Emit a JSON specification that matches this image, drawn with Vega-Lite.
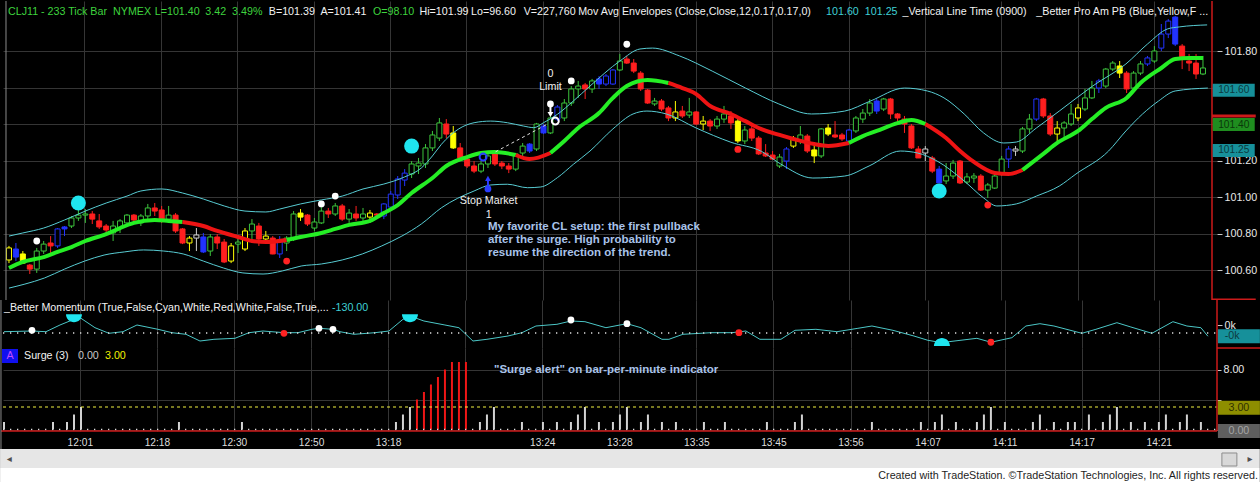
{
  "$schema": "https://vega.github.io/schema/vega-lite/v6.json",
  "background": "black",
  "padding": 0,
  "bounds": "flush",
  "spacing": 0,
  "config": {
    "view": {"stroke": null},
    "axis": {"labelFont": "Liberation Sans", "labelFontSize": 10.7, "labelColor": "#e8e8e8", "gridColor": "#353535", "gridWidth": 1, "domain": false, "tickColor": "#c8c8c8", "tickSize": 5, "labelPadding": 2, "labelOverlap": false, "labelFlush": false},
    "text": {"font": "Liberation Sans"}
  },
  "datasets": {
    "bars": [
      {"i":0,"o":100.655,"h":100.732,"l":100.638,"c":100.721,"k":"y"},
      {"i":1,"o":100.715,"h":100.748,"l":100.649,"c":100.671,"k":"b"},
      {"i":2,"o":100.688,"h":100.704,"l":100.633,"c":100.638,"k":"y"},
      {"i":3,"o":100.627,"h":100.633,"l":100.578,"c":100.605,"k":"r"},
      {"i":4,"o":100.605,"h":100.721,"l":100.584,"c":100.704,"k":"g"},
      {"i":5,"o":100.704,"h":100.759,"l":100.688,"c":100.742,"k":"g"},
      {"i":6,"o":100.748,"h":100.786,"l":100.688,"c":100.732,"k":"r"},
      {"i":7,"o":100.732,"h":100.830,"l":100.721,"c":100.825,"k":"b"},
      {"i":8,"o":100.836,"h":100.841,"l":100.786,"c":100.825,"k":"b"},
      {"i":9,"o":100.841,"h":100.896,"l":100.830,"c":100.885,"k":"g"},
      {"i":10,"o":100.885,"h":100.929,"l":100.869,"c":100.901,"k":"g"},
      {"i":11,"o":100.901,"h":100.934,"l":100.858,"c":100.907,"k":"g"},
      {"i":12,"o":100.907,"h":100.923,"l":100.852,"c":100.879,"k":"r"},
      {"i":13,"o":100.869,"h":100.907,"l":100.825,"c":100.836,"k":"r"},
      {"i":14,"o":100.841,"h":100.852,"l":100.797,"c":100.819,"k":"r"},
      {"i":15,"o":100.803,"h":100.869,"l":100.759,"c":100.841,"k":"g"},
      {"i":16,"o":100.830,"h":100.879,"l":100.803,"c":100.869,"k":"g"},
      {"i":17,"o":100.858,"h":100.907,"l":100.852,"c":100.901,"k":"g"},
      {"i":18,"o":100.901,"h":100.907,"l":100.852,"c":100.874,"k":"r"},
      {"i":19,"o":100.858,"h":100.907,"l":100.841,"c":100.896,"k":"g"},
      {"i":20,"o":100.896,"h":100.962,"l":100.879,"c":100.940,"k":"g"},
      {"i":21,"o":100.940,"h":100.967,"l":100.896,"c":100.923,"k":"r"},
      {"i":22,"o":100.929,"h":100.951,"l":100.858,"c":100.879,"k":"r"},
      {"i":23,"o":100.879,"h":100.951,"l":100.869,"c":100.901,"k":"g"},
      {"i":24,"o":100.901,"h":100.912,"l":100.803,"c":100.814,"k":"r"},
      {"i":25,"o":100.825,"h":100.830,"l":100.742,"c":100.748,"k":"r"},
      {"i":26,"o":100.748,"h":100.786,"l":100.704,"c":100.775,"k":"y"},
      {"i":27,"o":100.775,"h":100.830,"l":100.704,"c":100.792,"k":"w"},
      {"i":28,"o":100.781,"h":100.803,"l":100.693,"c":100.699,"k":"b"},
      {"i":29,"o":100.704,"h":100.797,"l":100.677,"c":100.781,"k":"g"},
      {"i":30,"o":100.781,"h":100.797,"l":100.715,"c":100.748,"k":"r"},
      {"i":31,"o":100.753,"h":100.770,"l":100.638,"c":100.644,"k":"r"},
      {"i":32,"o":100.649,"h":100.748,"l":100.638,"c":100.732,"k":"y"},
      {"i":33,"o":100.742,"h":100.786,"l":100.693,"c":100.753,"k":"g"},
      {"i":34,"o":100.715,"h":100.830,"l":100.704,"c":100.814,"k":"y"},
      {"i":35,"o":100.814,"h":100.879,"l":100.748,"c":100.852,"k":"g"},
      {"i":36,"o":100.841,"h":100.858,"l":100.732,"c":100.770,"k":"r"},
      {"i":37,"o":100.770,"h":100.814,"l":100.748,"c":100.786,"k":"y"},
      {"i":38,"o":100.775,"h":100.786,"l":100.686,"c":100.688,"k":"r"},
      {"i":39,"o":100.688,"h":100.786,"l":100.666,"c":100.759,"k":"b"},
      {"i":40,"o":100.748,"h":100.786,"l":100.704,"c":100.775,"k":"g"},
      {"i":41,"o":100.770,"h":100.923,"l":100.759,"c":100.907,"k":"g"},
      {"i":42,"o":100.912,"h":100.934,"l":100.869,"c":100.890,"k":"y"},
      {"i":43,"o":100.901,"h":100.907,"l":100.841,"c":100.852,"k":"r"},
      {"i":44,"o":100.830,"h":100.885,"l":100.814,"c":100.863,"k":"g"},
      {"i":45,"o":100.858,"h":100.962,"l":100.852,"c":100.923,"k":"g"},
      {"i":46,"o":100.923,"h":100.940,"l":100.885,"c":100.907,"k":"r"},
      {"i":47,"o":100.907,"h":100.967,"l":100.896,"c":100.951,"k":"g"},
      {"i":48,"o":100.951,"h":100.962,"l":100.869,"c":100.879,"k":"r"},
      {"i":49,"o":100.879,"h":100.934,"l":100.858,"c":100.912,"k":"g"},
      {"i":50,"o":100.907,"h":100.951,"l":100.869,"c":100.885,"k":"r"},
      {"i":51,"o":100.885,"h":100.940,"l":100.869,"c":100.907,"k":"g"},
      {"i":52,"o":100.890,"h":100.929,"l":100.858,"c":100.912,"k":"y"},
      {"i":53,"o":100.907,"h":100.912,"l":100.885,"c":100.901,"k":"r"},
      {"i":54,"o":100.896,"h":100.967,"l":100.879,"c":100.962,"k":"b"},
      {"i":55,"o":100.945,"h":101.033,"l":100.923,"c":101.016,"k":"b"},
      {"i":56,"o":101.011,"h":101.115,"l":100.989,"c":101.099,"k":"b"},
      {"i":57,"o":101.093,"h":101.153,"l":101.060,"c":101.131,"k":"b"},
      {"i":58,"o":101.126,"h":101.197,"l":101.104,"c":101.181,"k":"g"},
      {"i":59,"o":101.170,"h":101.214,"l":101.126,"c":101.186,"k":"g"},
      {"i":60,"o":101.181,"h":101.290,"l":101.159,"c":101.269,"k":"g"},
      {"i":61,"o":101.269,"h":101.362,"l":101.252,"c":101.340,"k":"g"},
      {"i":62,"o":101.323,"h":101.433,"l":101.307,"c":101.406,"k":"g"},
      {"i":63,"o":101.400,"h":101.427,"l":101.323,"c":101.345,"k":"r"},
      {"i":64,"o":101.351,"h":101.389,"l":101.263,"c":101.269,"k":"y"},
      {"i":65,"o":101.269,"h":101.296,"l":101.208,"c":101.214,"k":"r"},
      {"i":66,"o":101.208,"h":101.225,"l":101.159,"c":101.170,"k":"r"},
      {"i":67,"o":101.170,"h":101.197,"l":101.131,"c":101.142,"k":"r"},
      {"i":68,"o":101.142,"h":101.197,"l":101.131,"c":101.181,"k":"g"},
      {"i":69,"o":101.181,"h":101.241,"l":101.159,"c":101.225,"k":"g"},
      {"i":70,"o":101.236,"h":101.241,"l":101.170,"c":101.181,"k":"r"},
      {"i":71,"o":101.186,"h":101.197,"l":101.153,"c":101.170,"k":"r"},
      {"i":72,"o":101.170,"h":101.186,"l":101.131,"c":101.153,"k":"r"},
      {"i":73,"o":101.153,"h":101.241,"l":101.142,"c":101.236,"k":"g"},
      {"i":74,"o":101.241,"h":101.296,"l":101.214,"c":101.279,"k":"g"},
      {"i":75,"o":101.290,"h":101.296,"l":101.241,"c":101.252,"k":"b"},
      {"i":76,"o":101.263,"h":101.406,"l":101.252,"c":101.400,"k":"g"},
      {"i":77,"o":101.389,"h":101.400,"l":101.345,"c":101.351,"k":"b"},
      {"i":78,"o":101.351,"h":101.444,"l":101.345,"c":101.433,"k":"g"},
      {"i":79,"o":101.427,"h":101.504,"l":101.416,"c":101.493,"k":"b"},
      {"i":80,"o":101.433,"h":101.537,"l":101.416,"c":101.515,"k":"g"},
      {"i":81,"o":101.515,"h":101.608,"l":101.499,"c":101.592,"k":"g"},
      {"i":82,"o":101.592,"h":101.636,"l":101.543,"c":101.608,"k":"g"},
      {"i":83,"o":101.614,"h":101.625,"l":101.537,"c":101.592,"k":"r"},
      {"i":84,"o":101.592,"h":101.647,"l":101.570,"c":101.636,"k":"g"},
      {"i":85,"o":101.647,"h":101.663,"l":101.592,"c":101.619,"k":"b"},
      {"i":86,"o":101.619,"h":101.674,"l":101.608,"c":101.663,"k":"b"},
      {"i":87,"o":101.619,"h":101.701,"l":101.614,"c":101.696,"k":"b"},
      {"i":88,"o":101.696,"h":101.784,"l":101.690,"c":101.745,"k":"g"},
      {"i":89,"o":101.756,"h":101.773,"l":101.729,"c":101.734,"k":"r"},
      {"i":90,"o":101.734,"h":101.756,"l":101.679,"c":101.690,"k":"r"},
      {"i":91,"o":101.679,"h":101.690,"l":101.581,"c":101.592,"k":"r"},
      {"i":92,"o":101.586,"h":101.592,"l":101.510,"c":101.515,"k":"r"},
      {"i":93,"o":101.510,"h":101.543,"l":101.499,"c":101.526,"k":"g"},
      {"i":94,"o":101.526,"h":101.537,"l":101.471,"c":101.482,"k":"r"},
      {"i":95,"o":101.488,"h":101.499,"l":101.416,"c":101.433,"k":"r"},
      {"i":96,"o":101.433,"h":101.526,"l":101.416,"c":101.466,"k":"y"},
      {"i":97,"o":101.471,"h":101.499,"l":101.433,"c":101.444,"k":"r"},
      {"i":98,"o":101.449,"h":101.543,"l":101.433,"c":101.466,"k":"g"},
      {"i":99,"o":101.466,"h":101.471,"l":101.395,"c":101.400,"k":"r"},
      {"i":100,"o":101.400,"h":101.444,"l":101.367,"c":101.416,"k":"y"},
      {"i":101,"o":101.416,"h":101.427,"l":101.362,"c":101.389,"k":"r"},
      {"i":102,"o":101.389,"h":101.444,"l":101.373,"c":101.427,"k":"g"},
      {"i":103,"o":101.427,"h":101.499,"l":101.406,"c":101.455,"k":"g"},
      {"i":104,"o":101.444,"h":101.471,"l":101.373,"c":101.406,"k":"r"},
      {"i":105,"o":101.416,"h":101.427,"l":101.296,"c":101.307,"k":"y"},
      {"i":106,"o":101.307,"h":101.389,"l":101.290,"c":101.367,"k":"g"},
      {"i":107,"o":101.373,"h":101.389,"l":101.307,"c":101.323,"k":"r"},
      {"i":108,"o":101.323,"h":101.334,"l":101.230,"c":101.236,"k":"r"},
      {"i":109,"o":101.241,"h":101.290,"l":101.219,"c":101.225,"k":"r"},
      {"i":110,"o":101.230,"h":101.252,"l":101.203,"c":101.208,"k":"r"},
      {"i":111,"o":101.170,"h":101.236,"l":101.159,"c":101.219,"k":"g"},
      {"i":112,"o":101.197,"h":101.274,"l":101.153,"c":101.263,"k":"b"},
      {"i":113,"o":101.279,"h":101.334,"l":101.269,"c":101.318,"k":"y"},
      {"i":114,"o":101.307,"h":101.389,"l":101.290,"c":101.340,"k":"g"},
      {"i":115,"o":101.334,"h":101.345,"l":101.241,"c":101.252,"k":"r"},
      {"i":116,"o":101.258,"h":101.290,"l":101.186,"c":101.225,"k":"y"},
      {"i":117,"o":101.225,"h":101.378,"l":101.214,"c":101.373,"k":"g"},
      {"i":118,"o":101.378,"h":101.400,"l":101.334,"c":101.345,"k":"y"},
      {"i":119,"o":101.340,"h":101.416,"l":101.323,"c":101.329,"k":"r"},
      {"i":120,"o":101.340,"h":101.351,"l":101.307,"c":101.318,"k":"r"},
      {"i":121,"o":101.307,"h":101.373,"l":101.296,"c":101.367,"k":"b"},
      {"i":122,"o":101.362,"h":101.444,"l":101.351,"c":101.433,"k":"g"},
      {"i":123,"o":101.427,"h":101.482,"l":101.406,"c":101.460,"k":"g"},
      {"i":124,"o":101.460,"h":101.537,"l":101.444,"c":101.515,"k":"g"},
      {"i":125,"o":101.526,"h":101.537,"l":101.455,"c":101.471,"k":"b"},
      {"i":126,"o":101.482,"h":101.543,"l":101.471,"c":101.537,"k":"g"},
      {"i":127,"o":101.537,"h":101.543,"l":101.427,"c":101.455,"k":"r"},
      {"i":128,"o":101.455,"h":101.460,"l":101.406,"c":101.433,"k":"r"},
      {"i":129,"o":101.427,"h":101.444,"l":101.351,"c":101.400,"k":"r"},
      {"i":130,"o":101.389,"h":101.400,"l":101.263,"c":101.269,"k":"r"},
      {"i":131,"o":101.263,"h":101.279,"l":101.214,"c":101.214,"k":"r"},
      {"i":132,"o":101.241,"h":101.279,"l":101.197,"c":101.263,"k":"w"},
      {"i":133,"o":101.214,"h":101.225,"l":101.131,"c":101.142,"k":"r"},
      {"i":134,"o":101.153,"h":101.170,"l":101.077,"c":101.077,"k":"b"},
      {"i":135,"o":101.088,"h":101.186,"l":101.071,"c":101.115,"k":"g"},
      {"i":136,"o":101.115,"h":101.203,"l":101.099,"c":101.186,"k":"g"},
      {"i":137,"o":101.197,"h":101.203,"l":101.071,"c":101.077,"k":"r"},
      {"i":138,"o":101.082,"h":101.131,"l":101.071,"c":101.110,"k":"g"},
      {"i":139,"o":101.104,"h":101.131,"l":101.077,"c":101.115,"k":"g"},
      {"i":140,"o":101.115,"h":101.126,"l":101.033,"c":101.038,"k":"r"},
      {"i":141,"o":101.038,"h":101.077,"l":100.995,"c":101.066,"k":"g"},
      {"i":142,"o":101.049,"h":101.142,"l":101.044,"c":101.115,"k":"g"},
      {"i":143,"o":101.126,"h":101.225,"l":101.115,"c":101.208,"k":"g"},
      {"i":144,"o":101.208,"h":101.279,"l":101.159,"c":101.263,"k":"b"},
      {"i":145,"o":101.252,"h":101.279,"l":101.225,"c":101.263,"k":"w"},
      {"i":146,"o":101.252,"h":101.384,"l":101.241,"c":101.373,"k":"g"},
      {"i":147,"o":101.373,"h":101.455,"l":101.351,"c":101.427,"k":"g"},
      {"i":148,"o":101.427,"h":101.543,"l":101.416,"c":101.537,"k":"b"},
      {"i":149,"o":101.537,"h":101.543,"l":101.433,"c":101.444,"k":"r"},
      {"i":150,"o":101.444,"h":101.460,"l":101.334,"c":101.345,"k":"r"},
      {"i":151,"o":101.345,"h":101.416,"l":101.307,"c":101.378,"k":"y"},
      {"i":152,"o":101.378,"h":101.416,"l":101.323,"c":101.406,"k":"g"},
      {"i":153,"o":101.400,"h":101.510,"l":101.389,"c":101.455,"k":"g"},
      {"i":154,"o":101.433,"h":101.510,"l":101.416,"c":101.488,"k":"y"},
      {"i":155,"o":101.482,"h":101.592,"l":101.471,"c":101.543,"k":"g"},
      {"i":156,"o":101.543,"h":101.636,"l":101.537,"c":101.597,"k":"g"},
      {"i":157,"o":101.597,"h":101.647,"l":101.570,"c":101.636,"k":"b"},
      {"i":158,"o":101.608,"h":101.707,"l":101.597,"c":101.701,"k":"g"},
      {"i":159,"o":101.701,"h":101.745,"l":101.690,"c":101.734,"k":"g"},
      {"i":160,"o":101.718,"h":101.745,"l":101.652,"c":101.679,"k":"y"},
      {"i":161,"o":101.679,"h":101.690,"l":101.570,"c":101.592,"k":"r"},
      {"i":162,"o":101.597,"h":101.690,"l":101.592,"c":101.679,"k":"g"},
      {"i":163,"o":101.679,"h":101.745,"l":101.668,"c":101.729,"k":"g"},
      {"i":164,"o":101.729,"h":101.773,"l":101.718,"c":101.762,"k":"b"},
      {"i":165,"o":101.745,"h":101.827,"l":101.734,"c":101.800,"k":"g"},
      {"i":166,"o":101.816,"h":101.948,"l":101.800,"c":101.893,"k":"b"},
      {"i":167,"o":101.893,"h":101.975,"l":101.871,"c":101.964,"k":"b"},
      {"i":168,"o":101.986,"h":101.992,"l":101.827,"c":101.838,"k":"b"},
      {"i":169,"o":101.827,"h":101.838,"l":101.701,"c":101.762,"k":"r"},
      {"i":170,"o":101.745,"h":101.784,"l":101.690,"c":101.734,"k":"r"},
      {"i":171,"o":101.734,"h":101.784,"l":101.647,"c":101.674,"k":"r"},
      {"i":172,"o":101.674,"h":101.773,"l":101.668,"c":101.707,"k":"g"}
    ],
    "ma": [
      {"i":0,"v":100.611,"d":"u","g":0},{"i":2,"v":100.644,"d":"u","g":0},{"i":5,"v":100.671,"d":"u","g":0},{"i":7,"v":100.699,"d":"u","g":0},{"i":9,"v":100.726,"d":"u","g":0},{"i":11,"v":100.759,"d":"u","g":0},{"i":14,"v":100.797,"d":"u","g":0},{"i":16,"v":100.830,"d":"u","g":0},{"i":18,"v":100.858,"d":"u","g":0},{"i":21,"v":100.874,"d":"u","g":0},{"i":23,"v":100.869,"d":"u","g":0},{"i":25,"v":100.863,"d":"u","g":0},
      {"i":25,"v":100.863,"d":"d","g":1},{"i":28,"v":100.841,"d":"d","g":1},{"i":30,"v":100.814,"d":"d","g":1},{"i":33,"v":100.781,"d":"d","g":1},{"i":35,"v":100.759,"d":"d","g":1},{"i":37,"v":100.753,"d":"d","g":1},{"i":40,"v":100.764,"d":"d","g":1},
      {"i":40,"v":100.764,"d":"u","g":2},{"i":42,"v":100.781,"d":"u","g":2},{"i":45,"v":100.803,"d":"u","g":2},{"i":47,"v":100.825,"d":"u","g":2},{"i":49,"v":100.847,"d":"u","g":2},{"i":52,"v":100.869,"d":"u","g":2},{"i":54,"v":100.912,"d":"u","g":2},{"i":56,"v":100.956,"d":"u","g":2},{"i":58,"v":101.022,"d":"u","g":2},{"i":61,"v":101.104,"d":"u","g":2},{"i":63,"v":101.170,"d":"u","g":2},{"i":66,"v":101.219,"d":"u","g":2},{"i":68,"v":101.241,"d":"u","g":2},{"i":70,"v":101.247,"d":"u","g":2},{"i":73,"v":101.230,"d":"u","g":2},
      {"i":73,"v":101.230,"d":"d","g":3},{"i":75,"v":101.208,"d":"d","g":3},{"i":78,"v":101.241,"d":"d","g":3},
      {"i":78,"v":101.241,"d":"u","g":4},{"i":80,"v":101.307,"d":"u","g":4},{"i":82,"v":101.378,"d":"u","g":4},{"i":85,"v":101.460,"d":"u","g":4},{"i":87,"v":101.543,"d":"u","g":4},{"i":89,"v":101.608,"d":"u","g":4},{"i":92,"v":101.641,"d":"u","g":4},{"i":95,"v":101.625,"d":"u","g":4},
      {"i":95,"v":101.625,"d":"d","g":5},{"i":97,"v":101.597,"d":"d","g":5},{"i":99,"v":101.564,"d":"d","g":5},{"i":101,"v":101.499,"d":"d","g":5},{"i":104,"v":101.455,"d":"d","g":5},{"i":106,"v":101.417,"d":"d","g":5},{"i":108,"v":101.378,"d":"d","g":5},{"i":111,"v":101.340,"d":"d","g":5},{"i":113,"v":101.318,"d":"d","g":5},{"i":116,"v":101.290,"d":"d","g":5},{"i":118,"v":101.280,"d":"d","g":5},{"i":121,"v":101.296,"d":"d","g":5},
      {"i":121,"v":101.296,"d":"u","g":6},{"i":123,"v":101.334,"d":"u","g":6},{"i":125,"v":101.362,"d":"u","g":6},{"i":128,"v":101.405,"d":"u","g":6},{"i":130,"v":101.422,"d":"u","g":6},{"i":132,"v":101.400,"d":"u","g":6},
      {"i":132,"v":101.400,"d":"d","g":7},{"i":135,"v":101.323,"d":"d","g":7},{"i":137,"v":101.252,"d":"d","g":7},{"i":139,"v":101.192,"d":"d","g":7},{"i":142,"v":101.132,"d":"d","g":7},{"i":144,"v":101.126,"d":"d","g":7},{"i":146,"v":101.148,"d":"d","g":7},
      {"i":146,"v":101.148,"d":"u","g":8},{"i":149,"v":101.236,"d":"u","g":8},{"i":151,"v":101.296,"d":"u","g":8},{"i":154,"v":101.362,"d":"u","g":8},{"i":156,"v":101.427,"d":"u","g":8},{"i":158,"v":101.488,"d":"u","g":8},{"i":161,"v":101.543,"d":"u","g":8},{"i":163,"v":101.625,"d":"u","g":8},{"i":166,"v":101.707,"d":"u","g":8},{"i":168,"v":101.756,"d":"u","g":8},{"i":170,"v":101.762,"d":"u","g":8},{"i":172,"v":101.762,"d":"u","g":8}
    ],
    "env": [
      {"i":0,"v":100.786,"b":"u"},{"i":2,"v":100.803,"b":"u"},{"i":5,"v":100.830,"b":"u"},{"i":8,"v":100.874,"b":"u"},{"i":11,"v":100.923,"b":"u"},{"i":14,"v":100.967,"b":"u"},{"i":17,"v":101.005,"b":"u"},{"i":19,"v":101.033,"b":"u"},{"i":22,"v":101.044,"b":"u"},{"i":25,"v":101.022,"b":"u"},{"i":28,"v":100.989,"b":"u"},{"i":31,"v":100.951,"b":"u"},{"i":34,"v":100.923,"b":"u"},{"i":37,"v":100.918,"b":"u"},{"i":39,"v":100.934,"b":"u"},{"i":42,"v":100.962,"b":"u"},{"i":45,"v":100.984,"b":"u"},{"i":48,"v":101.005,"b":"u"},{"i":51,"v":101.044,"b":"u"},{"i":54,"v":101.071,"b":"u"},{"i":57,"v":101.110,"b":"u"},{"i":59.4,"v":101.159,"b":"u"},{"i":61,"v":101.225,"b":"u"},{"i":62.3,"v":101.289,"b":"u"},{"i":64.7,"v":101.371,"b":"u"},{"i":67,"v":101.407,"b":"u"},{"i":69.4,"v":101.416,"b":"u"},{"i":71.8,"v":101.407,"b":"u"},{"i":74.1,"v":101.389,"b":"u"},{"i":75.6,"v":101.380,"b":"u"},{"i":77,"v":101.407,"b":"u"},{"i":79,"v":101.453,"b":"u"},{"i":81.3,"v":101.526,"b":"u"},{"i":83.7,"v":101.608,"b":"u"},{"i":88,"v":101.745,"b":"u"},{"i":90.9,"v":101.811,"b":"u"},{"i":92.7,"v":101.816,"b":"u"},{"i":96.6,"v":101.773,"b":"u"},{"i":101.3,"v":101.690,"b":"u"},{"i":106.1,"v":101.597,"b":"u"},{"i":110.9,"v":101.510,"b":"u"},{"i":115.6,"v":101.455,"b":"u"},{"i":120.4,"v":101.471,"b":"u"},{"i":124.1,"v":101.526,"b":"u"},{"i":129,"v":101.597,"b":"u"},{"i":132.3,"v":101.581,"b":"u"},{"i":134.7,"v":101.543,"b":"u"},{"i":137.6,"v":101.455,"b":"u"},{"i":140.4,"v":101.351,"b":"u"},{"i":143.3,"v":101.296,"b":"u"},{"i":145.1,"v":101.301,"b":"u"},{"i":148,"v":101.378,"b":"u"},{"i":151.3,"v":101.471,"b":"u"},{"i":156.1,"v":101.608,"b":"u"},{"i":160.9,"v":101.729,"b":"u"},{"i":164,"v":101.838,"b":"u"},{"i":166.9,"v":101.921,"b":"u"},{"i":168.6,"v":101.932,"b":"u"},{"i":172.6,"v":101.943,"b":"u"},
      {"i":0,"v":100.501,"b":"l"},{"i":2.3,"v":100.523,"b":"l"},{"i":5.1,"v":100.556,"b":"l"},{"i":8,"v":100.605,"b":"l"},{"i":10.9,"v":100.649,"b":"l"},{"i":13.7,"v":100.682,"b":"l"},{"i":16.6,"v":100.699,"b":"l"},{"i":19.4,"v":100.710,"b":"l"},{"i":22.3,"v":100.704,"b":"l"},{"i":25.1,"v":100.688,"b":"l"},{"i":28,"v":100.649,"b":"l"},{"i":30.9,"v":100.611,"b":"l"},{"i":33.7,"v":100.584,"b":"l"},{"i":36.6,"v":100.578,"b":"l"},{"i":39.4,"v":100.595,"b":"l"},{"i":42.1,"v":100.622,"b":"l"},{"i":45,"v":100.633,"b":"l"},{"i":48,"v":100.655,"b":"l"},{"i":50.9,"v":100.688,"b":"l"},{"i":53.7,"v":100.732,"b":"l"},{"i":56.6,"v":100.786,"b":"l"},{"i":59.4,"v":100.852,"b":"l"},{"i":62.3,"v":100.941,"b":"l"},{"i":67,"v":101.033,"b":"l"},{"i":69.4,"v":101.066,"b":"l"},{"i":71.8,"v":101.070,"b":"l"},{"i":74.7,"v":101.051,"b":"l"},{"i":76.6,"v":101.055,"b":"l"},{"i":79,"v":101.106,"b":"l"},{"i":81.3,"v":101.179,"b":"l"},{"i":83.7,"v":101.252,"b":"l"},{"i":87,"v":101.373,"b":"l"},{"i":89.9,"v":101.455,"b":"l"},{"i":91.9,"v":101.471,"b":"l"},{"i":94.7,"v":101.455,"b":"l"},{"i":99,"v":101.378,"b":"l"},{"i":104,"v":101.300,"b":"l"},{"i":108.4,"v":101.250,"b":"l"},{"i":111.2,"v":101.180,"b":"l"},{"i":115.8,"v":101.104,"b":"l"},{"i":120.4,"v":101.115,"b":"l"},{"i":123.9,"v":101.170,"b":"l"},{"i":128.4,"v":101.252,"b":"l"},{"i":130.9,"v":101.241,"b":"l"},{"i":133.7,"v":101.197,"b":"l"},{"i":137.6,"v":101.088,"b":"l"},{"i":140.4,"v":100.995,"b":"l"},{"i":142.3,"v":100.951,"b":"l"},{"i":145.1,"v":100.962,"b":"l"},{"i":148,"v":101.005,"b":"l"},{"i":151.3,"v":101.060,"b":"l"},{"i":153.7,"v":101.126,"b":"l"},{"i":158.4,"v":101.252,"b":"l"},{"i":160.9,"v":101.362,"b":"l"},{"i":163.3,"v":101.455,"b":"l"},{"i":165.6,"v":101.526,"b":"l"},{"i":168,"v":101.581,"b":"l"},{"i":172.7,"v":101.597,"b":"l"}
    ],
    "mom": [
      {"i":0,"m":52},{"i":4,"m":80},{"i":6,"m":52},{"i":8,"m":320},{"i":10,"m":548},{"i":11,"m":588},{"i":13,"m":212},{"i":15,"m":-12},{"i":17,"m":52},{"i":19,"m":320},{"i":22,"m":148},{"i":24,"m":12},{"i":26,"m":-52},{"i":28,"m":-320},{"i":30,"m":-252},{"i":33,"m":-212},{"i":35,"m":12},{"i":37,"m":80},{"i":40,"m":12},{"i":42,"m":12},{"i":44,"m":148},{"i":45,"m":188},{"i":47,"m":148},{"i":48,"m":52},{"i":50,"m":-52},{"i":53,"m":12},{"i":55,"m":80},{"i":57,"m":548},{"i":58,"m":680},{"i":60,"m":480},{"i":63,"m":320},{"i":65,"m":212},{"i":67,"m":-320},{"i":69,"m":-252},{"i":72,"m":-120},{"i":74,"m":12},{"i":76,"m":280},{"i":79,"m":348},{"i":81,"m":480},{"i":83,"m":452},{"i":86,"m":212},{"i":88,"m":320},{"i":89,"m":372},{"i":91,"m":212},{"i":94,"m":-252},{"i":95,"m":-252},{"i":97,"m":-52},{"i":101,"m":12},{"i":104,"m":12},{"i":106,"m":80},{"i":108,"m":-252},{"i":111,"m":-252},{"i":113,"m":108},{"i":116,"m":148},{"i":119,"m":52},{"i":122,"m":188},{"i":124,"m":280},{"i":127,"m":108},{"i":130,"m":-120},{"i":132,"m":-292},{"i":134,"m":-388},{"i":135,"m":-348},{"i":139,"m":-212},{"i":141,"m":-370},{"i":144,"m":-188},{"i":146,"m":280},{"i":148,"m":372},{"i":150,"m":280},{"i":154,"m":-12},{"i":156,"m":148},{"i":159,"m":412},{"i":161,"m":240},{"i":164,"m":-12},{"i":167,"m":452},{"i":169,"m":280},{"i":171,"m":212},{"i":172,"m":-130}
    ],
    "surge": [
      {"i":0,"s":1,"k":"w"},{"i":7,"s":1,"k":"w"},{"i":9,"s":1,"k":"w"},{"i":10,"s":2,"k":"w"},{"i":11,"s":3,"k":"w"},{"i":25,"s":1,"k":"w"},{"i":34,"s":1,"k":"w"},{"i":56,"s":1,"k":"w"},{"i":57,"s":2,"k":"w"},{"i":58,"s":3,"k":"w"},
      {"i":59,"s":4,"k":"r"},{"i":60,"s":5,"k":"r"},{"i":61,"s":6,"k":"r"},{"i":62,"s":7,"k":"r"},{"i":63,"s":8,"k":"r"},{"i":64,"s":9,"k":"r"},{"i":65,"s":9,"k":"r"},{"i":66,"s":9,"k":"r"},
      {"i":68,"s":1,"k":"w"},{"i":69,"s":2,"k":"w"},{"i":70,"s":3,"k":"w"},{"i":74,"s":1,"k":"w"},{"i":77,"s":1,"k":"w"},{"i":79,"s":1,"k":"w"},{"i":81,"s":1,"k":"w"},{"i":82,"s":2,"k":"w"},{"i":83,"s":3,"k":"w"},{"i":85,"s":1,"k":"w"},{"i":87,"s":1,"k":"w"},{"i":88,"s":2,"k":"w"},{"i":89,"s":3,"k":"w"},{"i":91,"s":1,"k":"w"},{"i":92,"s":2,"k":"w"},{"i":94,"s":1,"k":"w"},{"i":96,"s":1,"k":"w"},{"i":100,"s":1,"k":"w"},{"i":103,"s":1,"k":"w"},{"i":109,"s":1,"k":"w"},{"i":113,"s":1,"k":"w"},{"i":114,"s":2,"k":"w"},{"i":124,"s":1,"k":"w"},{"i":131,"s":1,"k":"w"},{"i":133,"s":1,"k":"w"},{"i":134,"s":2,"k":"w"},{"i":136,"s":1,"k":"w"},{"i":139,"s":1,"k":"w"},{"i":140,"s":2,"k":"w"},{"i":141,"s":3,"k":"w"},{"i":143,"s":1,"k":"w"},{"i":147,"s":1,"k":"w"},{"i":148,"s":2,"k":"w"},{"i":150,"s":1,"k":"w"},{"i":152,"s":1,"k":"w"},{"i":153,"s":1,"k":"w"},{"i":155,"s":2,"k":"w"},{"i":157,"s":1,"k":"w"},{"i":158,"s":2,"k":"w"},{"i":159,"s":3,"k":"w"},{"i":161,"s":1,"k":"w"},{"i":163,"s":1,"k":"w"},{"i":165,"s":1,"k":"w"},{"i":166,"s":2,"k":"w"},{"i":168,"s":1,"k":"w"},{"i":169,"s":2,"k":"w"},{"i":171,"s":1,"k":"w"}
    ]
  },
  "vconcat": [
    {
      "width": 1214,
      "height": 299,
      "resolve": {"scale": {"color": "independent", "fill": "independent", "stroke": "independent", "shape": "independent"}},
      "layer": [
        {
          "data": {"name": "bars"},
          "mark": {"type": "rule", "strokeWidth": 1},
          "encoding": {
            "x": {"field": "i", "type": "quantitative", "title": null,
              "scale": {"domain": [-0.14, 173.3], "nice": false, "zero": false},
              "axis": {"values": [10.84, 21.85, 32.86, 43.87, 54.88, 65.89, 76.9, 87.91, 98.92, 109.93, 120.94, 131.95, 142.96, 153.97, 164.98], "labels": false, "ticks": false, "grid": true}},
            "y": {"field": "l", "type": "quantitative", "title": null,
              "scale": {"domain": [100.4357, 102.074], "nice": false, "zero": false},
              "axis": {"orient": "right", "values": [100.6, 100.8, 101, 101.2, 101.4, 101.6, 101.8], "grid": true,
                "labelExpr": "datum.value > 101.3 && datum.value < 101.7 ? '' : format(datum.value, '.2f')"}},
            "y2": {"field": "h"},
            "color": {"field": "k", "type": "nominal", "legend": null,
              "scale": {"domain": ["g", "r", "b", "y", "w"], "range": ["#3cc43c", "#ff1f1f", "#2233ff", "#ffff00", "#cfcfcf"]}}
          }
        },
        {
          "data": {"name": "bars"},
          "mark": {"type": "bar", "strokeWidth": 1},
          "encoding": {
            "x": {"field": "i", "type": "quantitative", "title": null},
            "y": {"field": "o", "type": "quantitative", "title": null},
            "y2": {"field": "c"},
            "size": {"value": 5},
            "stroke": {"field": "k", "type": "nominal", "legend": null,
              "scale": {"domain": ["g", "r", "b", "y", "w"], "range": ["#3cc43c", "#ff1f1f", "#2233ff", "#ffff00", "#cfcfcf"]}},
            "fill": {"condition": {"test": "datum.c < datum.o", "field": "k", "type": "nominal", "legend": null,
              "scale": {"domain": ["g", "r", "b", "y", "w"], "range": ["#3cc43c", "#ff1f1f", "#2233ff", "#ffff00", "#cfcfcf"]}}, "value": "black"}
          }
        },
        {
          "data": {"name": "env"},
          "mark": {"type": "line", "color": "#58ccd3", "strokeWidth": 1, "interpolate": "monotone"},
          "encoding": {
            "x": {"field": "i", "type": "quantitative", "title": null},
            "y": {"field": "v", "type": "quantitative", "title": null},
            "detail": {"field": "b", "type": "nominal"}
          }
        },
        {
          "data": {"name": "ma"},
          "mark": {"type": "line", "strokeWidth": 4, "interpolate": "monotone", "strokeJoin": "round"},
          "encoding": {
            "x": {"field": "i", "type": "quantitative", "title": null},
            "y": {"field": "v", "type": "quantitative", "title": null},
            "color": {"field": "d", "type": "nominal", "legend": null, "scale": {"domain": ["u", "d"], "range": ["#25ee25", "#ee1414"]}},
            "detail": {"field": "g", "type": "nominal"}
          }
        },
        {
          "data": {"values": [{"i": 70.1, "v": 101.248, "i2": 77.5, "v2": 101.398}]},
          "mark": {"type": "rule", "color": "#e0e0e0", "strokeWidth": 1, "strokeDash": [3, 3]},
          "encoding": {
            "x": {"field": "i", "type": "quantitative", "title": null},
            "y": {"field": "v", "type": "quantitative", "title": null},
            "x2": {"field": "i2"},
            "y2": {"field": "v2"}
          }
        },
        {
          "data": {"values": [{"i": 78, "v": 101.51, "v2": 101.455, "k": "w"}, {"i": 69, "v": 101.044, "v2": 101.1, "k": "b"}]},
          "mark": {"type": "rule", "strokeWidth": 2},
          "encoding": {
            "x": {"field": "i", "type": "quantitative", "title": null},
            "y": {"field": "v", "type": "quantitative", "title": null},
            "y2": {"field": "v2"},
            "color": {"field": "k", "type": "nominal", "legend": null, "scale": {"domain": ["w", "b"], "range": ["#ffffff", "#2a3cff"]}}
          }
        },
        {
          "data": {"values": [{"i": 78, "v": 101.452, "k": "td"}, {"i": 69, "v": 101.102, "k": "tu"}]},
          "mark": {"type": "point", "filled": true, "opacity": 1, "size": 34},
          "encoding": {
            "x": {"field": "i", "type": "quantitative", "title": null},
            "y": {"field": "v", "type": "quantitative", "title": null},
            "shape": {"field": "k", "type": "nominal", "legend": null, "scale": {"domain": ["td", "tu"], "range": ["triangle-down", "triangle-up"]}},
            "color": {"field": "k", "type": "nominal", "legend": null, "scale": {"domain": ["td", "tu"], "range": ["#ffffff", "#2a3cff"]}}
          }
        },
        {
          "data": {"values": [{"i": 10, "v": 100.967}, {"i": 58, "v": 101.279}, {"i": 134, "v": 101.033}]},
          "mark": {"type": "point", "shape": "circle", "filled": true, "opacity": 1, "size": 225, "color": "#1fe5ef"},
          "encoding": {
            "x": {"field": "i", "type": "quantitative", "title": null},
            "y": {"field": "v", "type": "quantitative", "title": null}
          }
        },
        {
          "data": {"values": [
            {"i": 4, "v": 100.759, "k": "w"}, {"i": 45, "v": 100.962, "k": "w"}, {"i": 47, "v": 101.005, "k": "w"}, {"i": 81, "v": 101.636, "k": "w"}, {"i": 89, "v": 101.837, "k": "w"},
            {"i": 40, "v": 100.649, "k": "r"}, {"i": 105, "v": 101.261, "k": "r"}, {"i": 141, "v": 100.956, "k": "r"},
            {"i": 78, "v": 101.51, "k": "w"}, {"i": 69, "v": 101.044, "k": "b"}]},
          "mark": {"type": "point", "shape": "circle", "filled": true, "opacity": 1, "size": 46},
          "encoding": {
            "x": {"field": "i", "type": "quantitative", "title": null},
            "y": {"field": "v", "type": "quantitative", "title": null},
            "color": {"field": "k", "type": "nominal", "legend": null, "scale": {"domain": ["w", "r", "b"], "range": ["#ffffff", "#ff2222", "#2a3cff"]}}
          }
        },
        {
          "data": {"values": [{"i": 78.7, "v": 101.416, "k": "w"}, {"i": 68.3, "v": 101.219, "k": "b"}]},
          "mark": {"type": "point", "shape": "circle", "filled": false, "opacity": 1, "size": 48, "strokeWidth": 2},
          "encoding": {
            "x": {"field": "i", "type": "quantitative", "title": null},
            "y": {"field": "v", "type": "quantitative", "title": null},
            "color": {"field": "k", "type": "nominal", "legend": null, "scale": {"domain": ["w", "b"], "range": ["#ffffff", "#2a3cff"]}}
          }
        },
        {
          "data": {"values": [{"i": 69.1, "v": 100.978, "t": "Stop Market"}, {"i": 69.1, "v": 100.901, "t": "1"}, {"i": 78, "v": 101.676, "t": "0"}, {"i": 78, "v": 101.603, "t": "Limit"}]},
          "mark": {"type": "text", "color": "#f0f0f0", "fontSize": 10.7, "align": "center", "baseline": "middle"},
          "encoding": {
            "x": {"field": "i", "type": "quantitative", "title": null},
            "y": {"field": "v", "type": "quantitative", "title": null},
            "text": {"field": "t"}
          }
        },
        {
          "data": {"values": [
            {"i": 69, "v": 100.836, "t": "My favorite CL setup: the first pullback"},
            {"i": 69, "v": 100.763, "t": "after the surge. High probability to"},
            {"i": 69, "v": 100.695, "t": "resume the direction of the trend."}]},
          "mark": {"type": "text", "color": "#a9c3ea", "fontSize": 11.5, "fontWeight": "bold", "align": "left", "baseline": "middle"},
          "encoding": {
            "x": {"field": "i", "type": "quantitative", "title": null},
            "y": {"field": "v", "type": "quantitative", "title": null},
            "text": {"field": "t"}
          }
        },
        {
          "data": {"values": [
            {"i": -0.14, "t": "CLJ11 - 233 Tick Bar", "k": "g"},
            {"i": 15, "t": "NYMEX", "k": "g"},
            {"i": 21, "t": "L=101.40", "k": "g"},
            {"i": 28.29, "t": "3.42", "k": "g"},
            {"i": 32.14, "t": "3.49%", "k": "g"},
            {"i": 37.43, "t": "B=101.39", "k": "w"},
            {"i": 44.86, "t": "A=101.41", "k": "w"},
            {"i": 52.43, "t": "O=98.10", "k": "g"},
            {"i": 59.14, "t": "Hi=101.99", "k": "w"},
            {"i": 66.57, "t": "Lo=96.60", "k": "w"},
            {"i": 74.14, "t": "V=227,760", "k": "w"},
            {"i": 82, "t": "Mov Avg Envelopes (Close,Close,12,0.17,0.17,0)", "k": "w"},
            {"i": 117.71, "t": "101.60", "k": "c"},
            {"i": 123.29, "t": "101.25", "k": "c"},
            {"i": 128.71, "t": "_Vertical Line Time (0900)", "k": "w"},
            {"i": 148, "t": "_Better Pro Am PB (Blue,Yellow,F ...", "k": "w"}]},
          "mark": {"type": "text", "fontSize": 10.7, "align": "left", "baseline": "middle"},
          "encoding": {
            "x": {"field": "i", "type": "quantitative", "title": null},
            "y": {"datum": 102.016},
            "text": {"field": "t"},
            "color": {"field": "k", "type": "nominal", "legend": null, "scale": {"domain": ["g", "w", "c"], "range": ["#3ed43e", "#f2f2f2", "#3fd0d6"]}}
          }
        },
        {
          "data": {"values": [{}]},
          "mark": {"type": "rule", "color": "#8a8a8a", "strokeWidth": 1},
          "encoding": {"x": {"datum": -0.43}}
        },
        {
          "data": {"values": [{}]},
          "mark": {"type": "rule", "color": "#cc1a1a", "strokeWidth": 1.5},
          "encoding": {"x": {"datum": 173.3}}
        },
        {
          "data": {"values": [{}]},
          "mark": {"type": "rule", "color": "#cc1a1a", "strokeWidth": 3},
          "encoding": {"x": {"datum": 173.3}, "x2": {"datum": 179.6}, "y": {"datum": 101.444}}
        },
        {
          "data": {"values": [{}]},
          "mark": {"type": "rule", "color": "#cc1a1a", "strokeWidth": 1.5},
          "encoding": {"x": {"datum": 173.3}, "x2": {"datum": 179.6}, "y": {"datum": 100.44}}
        },
        {
          "data": {"values": [{"v": 101.585, "t": "101.60", "k": "teal"}, {"v": 101.397, "t": "101.40", "k": "green"}, {"v": 101.255, "t": "101.25", "k": "teal"}]},
          "mark": {"type": "point", "filled": true, "opacity": 1, "size": 1764, "shape": "M -1 -0.31 L 1 -0.31 L 1 0.31 L -1 0.31 Z"},
          "encoding": {
            "x": {"datum": 176.43},
            "y": {"field": "v", "type": "quantitative", "title": null},
            "fill": {"field": "k", "type": "nominal", "legend": null, "scale": {"domain": ["teal", "green"], "range": ["#16909a", "#1f8d1f"]}}
          }
        },
        {
          "data": {"values": [{"v": 101.585, "t": "101.60", "k": "teal"}, {"v": 101.397, "t": "101.40", "k": "green"}, {"v": 101.255, "t": "101.25", "k": "teal"}]},
          "mark": {"type": "text", "fontSize": 10.2, "align": "center", "baseline": "middle"},
          "encoding": {
            "x": {"datum": 176.43},
            "y": {"field": "v", "type": "quantitative", "title": null},
            "text": {"field": "t"},
            "color": {"field": "k", "type": "nominal", "legend": null, "scale": {"domain": ["teal", "green"], "range": ["#0c3a3e", "#0a380a"]}}
          }
        }
      ]
    },
    {
      "width": 1214,
      "height": 48,
      "resolve": {"scale": {"color": "independent", "shape": "independent"}},
      "layer": [
        {
          "data": {"name": "mom"},
          "mark": {"type": "line", "color": "#4cc7c7", "strokeWidth": 1},
          "encoding": {
            "x": {"field": "i", "type": "quantitative", "title": null,
              "scale": {"domain": [-0.14, 173.3], "nice": false, "zero": false},
              "axis": {"values": [10.84, 21.85, 32.86, 43.87, 54.88, 65.89, 76.9, 87.91, 98.92, 109.93, 120.94, 131.95, 142.96, 153.97, 164.98], "labels": false, "ticks": false, "grid": true}},
            "y": {"field": "m", "type": "quantitative", "title": null,
              "scale": {"domain": [-600, 1320], "nice": false, "zero": false},
              "axis": {"orient": "right", "values": [320], "labelExpr": "'0k'", "grid": false}}
          }
        },
        {
          "data": {"values": [{}]},
          "mark": {"type": "rule", "color": "#dddddd", "strokeWidth": 1.3, "strokeDash": [1.3, 5.7]},
          "encoding": {"x": {"datum": -0.14}, "x2": {"datum": 173.3}, "y": {"datum": 0}}
        },
        {
          "data": {"values": [{"i": 10, "v": 748, "k": "t"}, {"i": 58, "v": 748, "k": "t"}, {"i": 134, "v": -520, "k": "b"}]},
          "mark": {"type": "point", "filled": true, "opacity": 1, "size": 256, "color": "#1fe5ef"},
          "encoding": {
            "x": {"field": "i", "type": "quantitative", "title": null},
            "y": {"field": "v", "type": "quantitative", "title": null},
            "shape": {"field": "k", "type": "nominal", "legend": null, "scale": {"domain": ["t", "b"], "range": ["M -1 0 A 1 1 0 0 0 1 0 Z", "M -1 0 A 1 1 0 0 1 1 0 Z"]}}
          }
        },
        {
          "data": {"values": [
            {"i": 4, "v": 108, "k": "w"}, {"i": 45, "v": 188, "k": "w"}, {"i": 47, "v": 148, "k": "w"}, {"i": 81, "v": 520, "k": "w"}, {"i": 89, "v": 372, "k": "w"},
            {"i": 40, "v": -12, "k": "r"}, {"i": 105, "v": 12, "k": "r"}, {"i": 141, "v": -370, "k": "r"}]},
          "mark": {"type": "point", "shape": "circle", "filled": true, "opacity": 1, "size": 46},
          "encoding": {
            "x": {"field": "i", "type": "quantitative", "title": null},
            "y": {"field": "v", "type": "quantitative", "title": null},
            "color": {"field": "k", "type": "nominal", "legend": null, "scale": {"domain": ["w", "r"], "range": ["#ffffff", "#ff2222"]}}
          }
        },
        {
          "data": {"values": [
            {"i": 0, "t": "_Better Momentum (True,False,Cyan,White,Red,White,False,True,...", "k": "w"},
            {"i": 46.86, "t": "-130.00", "k": "c"}]},
          "mark": {"type": "text", "fontSize": 10.7, "align": "left", "baseline": "middle"},
          "encoding": {
            "x": {"field": "i", "type": "quantitative", "title": null},
            "y": {"datum": 988},
            "text": {"field": "t"},
            "color": {"field": "k", "type": "nominal", "legend": null, "scale": {"domain": ["w", "c"], "range": ["#f2f2f2", "#3fd0d6"]}}
          }
        },
        {
          "data": {"values": [{}]},
          "mark": {"type": "rule", "color": "#8a8a8a", "strokeWidth": 1},
          "encoding": {"x": {"datum": -0.43}}
        },
        {
          "data": {"values": [{}]},
          "mark": {"type": "rule", "color": "#cc1a1a", "strokeWidth": 1.5},
          "encoding": {"x": {"datum": 173.3}}
        },
        {
          "data": {"values": [{}]},
          "mark": {"type": "rule", "color": "#cc1a1a", "strokeWidth": 1.5},
          "encoding": {"x": {"datum": 173.3}, "x2": {"datum": 179.6}, "y": {"datum": -600}}
        },
        {
          "data": {"values": [{"v": -130, "t": "-0k"}]},
          "mark": {"type": "point", "filled": true, "opacity": 1, "size": 1764, "color": "#16909a", "shape": "M -1 -0.33 L 1 -0.33 L 1 0.33 L -1 0.33 Z"},
          "encoding": {
            "x": {"datum": 176.43},
            "y": {"field": "v", "type": "quantitative", "title": null}
          }
        },
        {
          "data": {"values": [{"v": -130, "t": "-0k"}]},
          "mark": {"type": "text", "fontSize": 10.7, "align": "left", "baseline": "middle", "color": "#0c3a3e"},
          "encoding": {
            "x": {"datum": 174.4},
            "y": {"field": "v", "type": "quantitative", "title": null},
            "text": {"field": "t"}
          }
        }
      ]
    },
    {
      "width": 1214,
      "height": 83,
      "resolve": {"scale": {"color": "independent", "fill": "independent"}},
      "layer": [
        {
          "data": {"name": "surge"},
          "mark": {"type": "rule", "strokeWidth": 2},
          "encoding": {
            "x": {"field": "i", "type": "quantitative", "title": null,
              "scale": {"domain": [-0.14, 173.3], "nice": false, "zero": false},
              "axis": {"values": [10.84, 21.85, 32.86, 43.87, 54.88, 65.89, 76.9, 87.91, 98.92, 109.93, 120.94, 131.95, 142.96, 153.97, 164.98], "grid": true, "ticks": false, "labelPadding": 6, "labelFontSize": 10.2, "labelColor": "#dedede",
                "labelExpr": "['12:01','12:18','12:30','12:50','13:18','','13:24','13:28','13:35','13:45','13:56','14:07','14:11','14:17','14:21'][round((datum.value - 10.84) / 11.01)]"}},
            "y": {"field": "s", "type": "quantitative", "title": null,
              "scale": {"domain": [-0.2, 10.867], "nice": false, "zero": false},
              "axis": {"orient": "right", "values": [0, 1, 2, 3, 4, 5, 6, 7, 8, 9], "grid": true, "tickSize": 4,
                "labelExpr": "datum.value == 2 || datum.value == 5 || datum.value == 8 ? format(datum.value, '.2f') : ''"}},
            "y2": {"datum": 0},
            "color": {"field": "k", "type": "nominal", "legend": null, "scale": {"domain": ["w", "r"], "range": ["#d2d2d2", "#ee1616"]}}
          }
        },
        {
          "data": {"values": [{}]},
          "mark": {"type": "rule", "color": "#dddddd", "strokeWidth": 1.3, "strokeDash": [1.3, 5.7]},
          "encoding": {"x": {"datum": -0.14}, "x2": {"datum": 173.3}, "y": {"datum": 0}}
        },
        {
          "data": {"values": [{}]},
          "mark": {"type": "rule", "color": "#f0f040", "strokeWidth": 1, "strokeDash": [3, 3]},
          "encoding": {"x": {"datum": -0.14}, "x2": {"datum": 173.3}, "y": {"datum": 3}}
        },
        {
          "data": {"values": [{}]},
          "mark": {"type": "rule", "color": "#cc1a1a", "strokeWidth": 1.5},
          "encoding": {"x": {"datum": -0.43}, "x2": {"datum": 173.3}, "y": {"datum": -0.2}}
        },
        {
          "data": {"values": [{}]},
          "mark": {"type": "rule", "color": "#8a8a8a", "strokeWidth": 1},
          "encoding": {"x": {"datum": -0.43}, "y": {"datum": 10.867}, "y2": {"datum": -5.133}}
        },
        {
          "data": {"values": [{}]},
          "mark": {"type": "rule", "color": "#cc1a1a", "strokeWidth": 1.5},
          "encoding": {"x": {"datum": 173.3}, "y": {"datum": 10.867}, "y2": {"datum": -0.2}}
        },
        {
          "data": {"values": [{"v": 9.8}]},
          "mark": {"type": "point", "filled": true, "opacity": 1, "size": 256, "color": "#1010ee", "shape": "M -1 -0.875 L 1 -0.875 L 1 0.875 L -1 0.875 Z"},
          "encoding": {"x": {"datum": 0.86}, "y": {"field": "v", "type": "quantitative", "title": null}}
        },
        {
          "data": {"values": [{"v": 9.8, "t": "A"}]},
          "mark": {"type": "text", "fontSize": 10.7, "align": "center", "baseline": "middle", "color": "#c24cff"},
          "encoding": {"x": {"datum": 0.86}, "y": {"field": "v", "type": "quantitative", "title": null}, "text": {"field": "t"}}
        },
        {
          "data": {"values": [
            {"i": 2.86, "t": "Surge (3)", "k": "w"},
            {"i": 10.57, "t": "0.00", "k": "s"},
            {"i": 14.43, "t": "3.00", "k": "y"}]},
          "mark": {"type": "text", "fontSize": 10.7, "align": "left", "baseline": "middle"},
          "encoding": {
            "x": {"field": "i", "type": "quantitative", "title": null},
            "y": {"datum": 9.8},
            "text": {"field": "t"},
            "color": {"field": "k", "type": "nominal", "legend": null, "scale": {"domain": ["w", "s", "y"], "range": ["#f2f2f2", "#c8c8c8", "#f0f000"]}}
          }
        },
        {
          "data": {"values": [{"i": 70, "v": 7.93, "t": "\"Surge alert\" on bar-per-minute indicator"}]},
          "mark": {"type": "text", "color": "#a9c3ea", "fontSize": 11.5, "fontWeight": "bold", "align": "left", "baseline": "middle"},
          "encoding": {
            "x": {"field": "i", "type": "quantitative", "title": null},
            "y": {"field": "v", "type": "quantitative", "title": null},
            "text": {"field": "t"}
          }
        },
        {
          "data": {"values": [{"v": 2.9, "t": "3.00", "k": "olive"}, {"v": -0.2, "t": "0.00", "k": "gray"}]},
          "mark": {"type": "point", "filled": true, "opacity": 1, "size": 1764, "shape": "M -1 -0.33 L 1 -0.33 L 1 0.33 L -1 0.33 Z"},
          "encoding": {
            "x": {"datum": 176.43},
            "y": {"field": "v", "type": "quantitative", "title": null},
            "fill": {"field": "k", "type": "nominal", "legend": null, "scale": {"domain": ["olive", "gray"], "range": ["#8e8e00", "#5f5f5f"]}}
          }
        },
        {
          "data": {"values": [{"v": 2.9, "t": "3.00", "k": "olive"}, {"v": -0.2, "t": "0.00", "k": "gray"}]},
          "mark": {"type": "text", "fontSize": 10.7, "align": "center", "baseline": "middle"},
          "encoding": {
            "x": {"datum": 176.43},
            "y": {"field": "v", "type": "quantitative", "title": null},
            "text": {"field": "t"},
            "color": {"field": "k", "type": "nominal", "legend": null, "scale": {"domain": ["olive", "gray"], "range": ["#2e2e00", "#a4a4a4"]}}
          }
        },
        {
          "data": {"values": [{}]},
          "mark": {"type": "rect", "color": "#e6e6e6"},
          "encoding": {"x": {"datum": -0.56}, "x2": {"datum": 179.42}, "y": {"datum": -2.6}, "y2": {"datum": -5.133}}
        },
        {
          "data": {"values": [{}]},
          "mark": {"type": "rect", "color": "#ffffff"},
          "encoding": {"x": {"datum": -0.56}, "x2": {"datum": 179.42}, "y": {"datum": -5.133}, "y2": {"datum": -7.133}}
        },
        {
          "data": {"values": [{}]},
          "mark": {"type": "rect", "fill": "#d8d8d8", "stroke": "#8c8c8c", "strokeWidth": 1},
          "encoding": {"x": {"datum": 174.0}, "x2": {"datum": 176.14}, "y": {"datum": -3.133}, "y2": {"datum": -4.867}}
        },
        {
          "data": {"values": [{"i": 0.75, "t": "◂"}, {"i": 178.0, "t": "▸"}]},
          "mark": {"type": "text", "font": "DejaVu Sans", "fontSize": 10, "align": "center", "baseline": "middle", "color": "#505050"},
          "encoding": {
            "x": {"field": "i", "type": "quantitative", "title": null},
            "y": {"datum": -3.95},
            "text": {"field": "t"}
          }
        },
        {
          "data": {"values": [{"i": 179.14, "t": "Created with TradeStation. ©TradeStation Technologies, Inc. All rights reserved."}]},
          "mark": {"type": "text", "font": "Liberation Sans Narrow, Liberation Sans", "fontSize": 10.75, "align": "right", "baseline": "middle", "color": "#1e1e1e"},
          "encoding": {
            "x": {"field": "i", "type": "quantitative", "title": null},
            "y": {"datum": -6.2},
            "text": {"field": "t"}
          }
        }
      ]
    }
  ]
}
